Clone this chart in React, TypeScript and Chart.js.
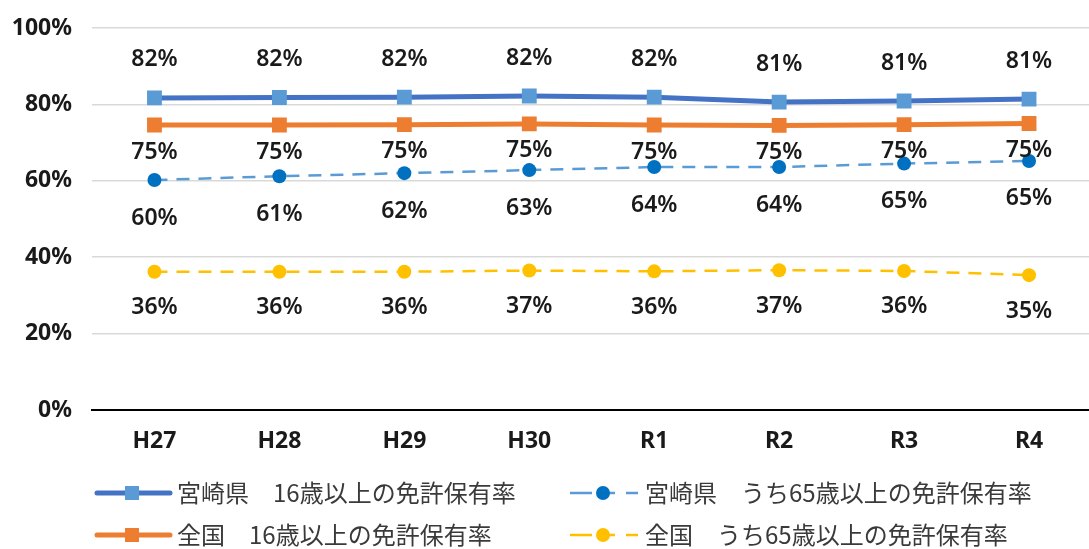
import React, { useEffect, useRef } from "react";
import { Chart, registerables } from "chart.js";

Chart.register(...registerables);

const categories = ["H27", "H28", "H29", "H30", "R1", "R2", "R3", "R4"];
const miyazaki16 = [81.7, 81.8, 81.9, 82.2, 81.9, 80.6, 80.9, 81.4];
const miyazaki65 = [60.2, 61.2, 62.0, 62.8, 63.6, 63.6, 64.5, 65.2];
const national16 = [74.6, 74.6, 74.7, 74.9, 74.6, 74.5, 74.7, 75.0];
const national65 = [36.2, 36.2, 36.2, 36.5, 36.3, 36.6, 36.4, 35.3];
const seriesNames = [
  "宮崎県　16歳以上の免許保有率",
  "宮崎県　うち65歳以上の免許保有率",
  "全国　16歳以上の免許保有率",
  "全国　うち65歳以上の免許保有率",
];
const yTicks = [0, 20, 40, 60, 80, 100];

const LABEL_FONT = '600 23px "Noto Sans", sans-serif';

const dataLabelPlugin = {
  id: "dataLabels",
  afterDatasetsDraw(chart: any) {
    const ctx = chart.ctx;
    ctx.save();
    ctx.font = LABEL_FONT;
    ctx.fillStyle = "#1a1a1a";
    ctx.textAlign = "center";
    ctx.textBaseline = "middle";
    chart.data.datasets.forEach((ds: any, i: number) => {
      const meta = chart.getDatasetMeta(i);
      meta.data.forEach((pt: any, j: number) => {
        const v = ds.data[j];
        ctx.fillText(Math.round(v) + "%", pt.x, pt.y + ds.labelOffset);
      });
    });
    ctx.restore();
  },
};

const legendPlugin = {
  id: "customLegend",
  afterDraw(chart: any) {
    const ctx = chart.ctx;
    const items = [
      { ds: 0, x: 97, y: 493 },
      { ds: 1, x: 570, y: 493 },
      { ds: 2, x: 97, y: 535 },
      { ds: 3, x: 570, y: 535 },
    ];
    ctx.save();
    items.forEach((it) => {
      const ds = chart.data.datasets[it.ds];
      const solid = !ds.borderDash || ds.borderDash.length === 0;
      const len = solid ? 73 : 68;
      ctx.strokeStyle = ds.borderColor;
      ctx.lineWidth = ds.borderWidth;
      ctx.lineCap = "round";
      if (solid) {
        ctx.setLineDash([]);
        ctx.beginPath();
        ctx.moveTo(it.x, it.y);
        ctx.lineTo(it.x + len, it.y);
        ctx.stroke();
      } else {
        ctx.lineCap = "butt";
        ctx.setLineDash([]);
        ctx.beginPath();
        ctx.moveTo(it.x, it.y);
        ctx.lineTo(it.x + 22, it.y);
        ctx.moveTo(it.x + 33, it.y);
        ctx.lineTo(it.x + 45, it.y);
        ctx.moveTo(it.x + 56, it.y);
        ctx.lineTo(it.x + len, it.y);
        ctx.stroke();
      }
      const mx = it.x + (solid ? 35 : 33);
      ctx.fillStyle = ds.pointBackgroundColor;
      if (ds.pointStyle === "rect") {
        const s = 14;
        ctx.beginPath();
        ctx.rect(mx - s / 2, it.y - s / 2, s, s);
        ctx.fill();
      } else {
        ctx.beginPath();
        ctx.arc(mx, it.y, 7, 0, Math.PI * 2);
        ctx.fill();
      }
      ctx.font = '24px "Noto Sans CJK JP", sans-serif';
      ctx.fillStyle = "#3a3a3a";
      ctx.textAlign = "left";
      ctx.textBaseline = "middle";
      ctx.fillText(ds.label, it.x + len + 7, it.y);
    });
    ctx.restore();
  },
};

export default function App() {
  const ref = useRef<HTMLCanvasElement | null>(null);
  useEffect(() => {
    if (!ref.current) return;
    const chart = new Chart(ref.current, {
      type: "line",
      data: {
        labels: categories,
        datasets: [
          {
            label: seriesNames[0],
            data: miyazaki16,
            borderColor: "#4472C4",
            borderWidth: 5,
            pointStyle: "rect",
            pointRadius: 10.5,
            pointBackgroundColor: "#5B9BD5",
            pointBorderColor: "#5B9BD5",
            pointBorderWidth: 0,
            labelOffset: -38,
          } as any,
          {
            label: seriesNames[1],
            data: miyazaki65,
            borderColor: "#5B9BD5",
            borderWidth: 2.5,
            borderDash: [13, 9],
            pointStyle: "circle",
            pointRadius: 7,
            pointBackgroundColor: "#0070C0",
            pointBorderColor: "#0070C0",
            pointBorderWidth: 0,
            labelOffset: 38,
          } as any,
          {
            label: seriesNames[2],
            data: national16,
            borderColor: "#ED7D31",
            borderWidth: 5,
            pointStyle: "rect",
            pointRadius: 10.5,
            pointBackgroundColor: "#ED7D31",
            pointBorderColor: "#ED7D31",
            pointBorderWidth: 0,
            labelOffset: 27,
          } as any,
          {
            label: seriesNames[3],
            data: national65,
            borderColor: "#FFC000",
            borderWidth: 2.5,
            borderDash: [13, 9],
            pointStyle: "circle",
            pointRadius: 7,
            pointBackgroundColor: "#FFC000",
            pointBorderColor: "#FFC000",
            pointBorderWidth: 0,
            labelOffset: 36,
          } as any,
        ],
      },
      options: {
        animation: false,
        responsive: false,
        layout: { padding: { top: 28, right: 0, left: 0, bottom: 0 } },
        plugins: {
          legend: { display: false },
          tooltip: { enabled: false },
        },
        scales: {
          x: {
            offset: true,
            grid: { display: false, drawTicks: false },
            border: { display: true, color: "#000000", width: 2 },
            ticks: {
              padding: 18,
              color: "#1a1a1a",
              font: { family: '"Noto Sans", sans-serif', size: 23, weight: "bold" },
            },
            afterFit: (s: any) => {
              s.height = 139;
              s.paddingLeft = 0;
              s.paddingRight = 0;
            },
          },
          y: {
            min: 0,
            max: 100,
            afterBuildTicks: (s: any) => {
              s.ticks = yTicks.map((v) => ({ value: v }));
            },
            grid: { color: "#D9D9D9", lineWidth: 1.5, drawTicks: false },
            border: { display: false },
            ticks: {
              padding: 20,
              color: "#1a1a1a",
              font: { family: '"Noto Sans", sans-serif', size: 23, weight: "bold" },
              callback: (v: any) => v + "%",
            },
            afterFit: (s: any) => {
              s.width = 92;
              s.paddingTop = 0;
              s.paddingBottom = 0;
            },
          },
        },
      },
      plugins: [dataLabelPlugin, legendPlugin],
    });
    return () => chart.destroy();
  }, []);
  return (
    <div
      style={{
        position: "fixed",
        left: 0,
        top: 0,
        width: 1089,
        height: 549,
        overflow: "hidden",
        background: "#ffffff",
      }}
    >
      <canvas ref={ref} width={1102} height={549} />
    </div>
  );
}
